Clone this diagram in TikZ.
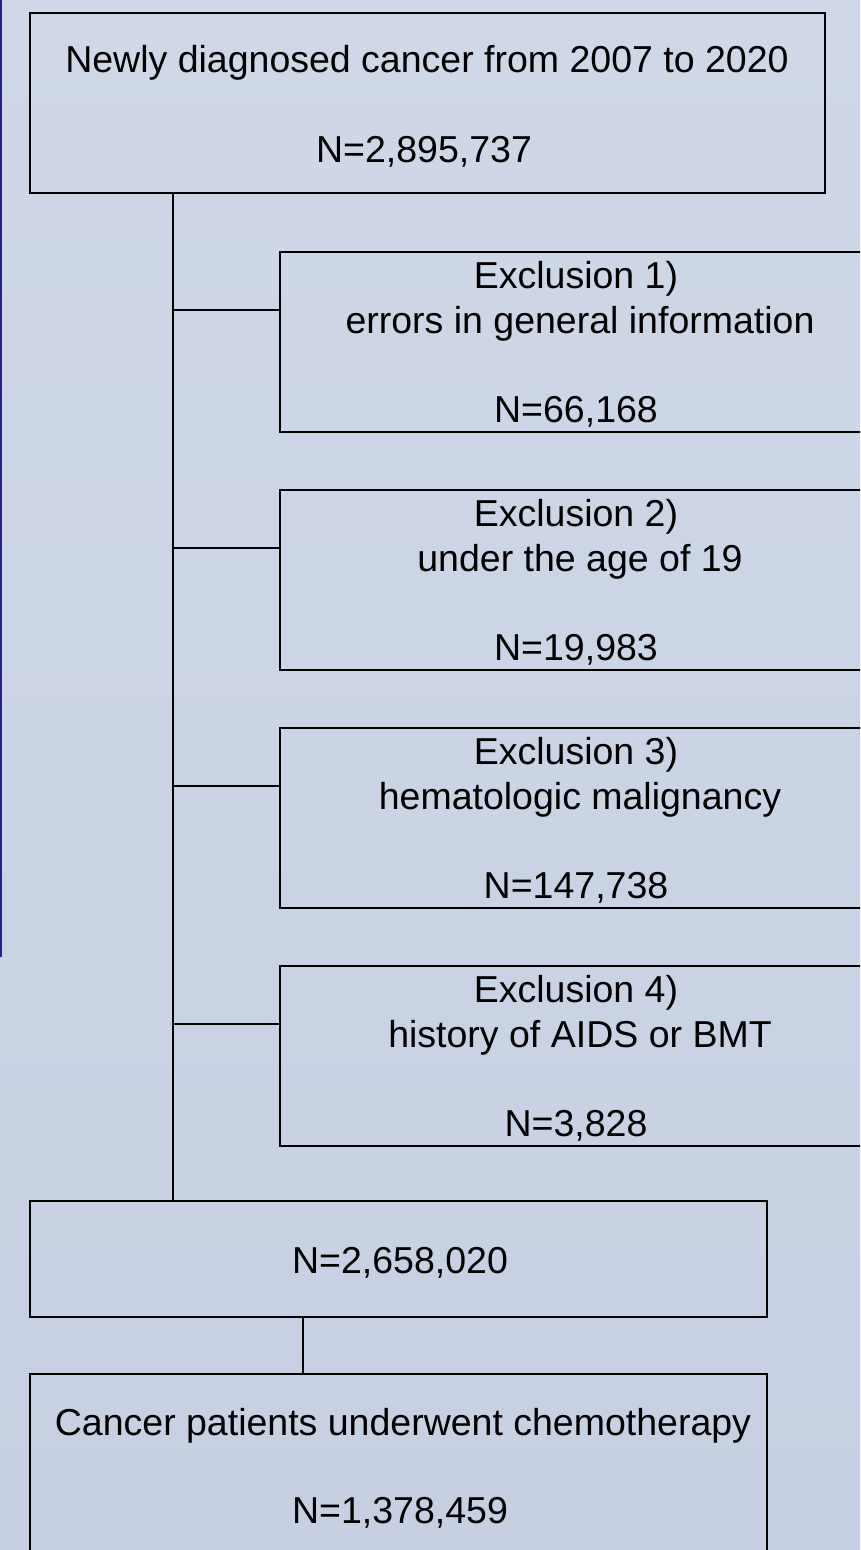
\documentclass[tikz,border=0pt]{standalone}
\usepackage{fontspec}
\setmainfont{Liberation Sans}
\usepackage{xcolor}

\definecolor{bgtop}{HTML}{D0D8E7}
\definecolor{bgbot}{HTML}{C6D0E2}
\definecolor{edgeblue}{HTML}{2B1F8C}

\tikzset{
  box/.style={draw=black, line width=2.2pt, inner sep=0pt},
  txt/.style={anchor=base, inner sep=0pt, font=\fontsize{37.5}{45}\selectfont},
  link/.style={draw=black, line width=2.2pt}
}

\begin{document}
\begin{tikzpicture}[x=1pt,y=-1pt]
\useasboundingbox (0,0) rectangle (860,1550);
\clip (0,0) rectangle (860,1550);

% -------------------------
% Background
% -------------------------
\shade[top color=bgtop, bottom color=bgbot] (0,0) rectangle (860,1550);
\draw[edgeblue, line width=2.5pt] (1,0) -- (1,957);

% -------------------------
% Starting cohort
% -------------------------
\node[box, minimum width=795pt, minimum height=180pt] (src) at (427.5,103) {};
\node[txt] (srcA) at (427,72) {Newly diagnosed cancer from 2007 to 2020};
\node[txt] (srcN) at (424,162) {N=2,895,737};

% -------------------------
% Exclusion boxes
% -------------------------
\node[box, minimum width=600pt, minimum height=180pt] (exA) at (580,342) {};
\node[txt] (exAa) at (576,288) {Exclusion 1)};
\node[txt] (exAb) at (580,333) {errors in general information};
\node[txt] (exAn) at (576,422) {N=66,168};

\node[box, minimum width=600pt, minimum height=180pt] (exB) at (580,580) {};
\node[txt] (exBa) at (576,526) {Exclusion 2)};
\node[txt] (exBb) at (580,571) {under the age of 19};
\node[txt] (exBn) at (576,660) {N=19,983};

\node[box, minimum width=600pt, minimum height=180pt] (exC) at (580,818) {};
\node[txt] (exCa) at (576,764) {Exclusion 3)};
\node[txt] (exCb) at (580,809) {hematologic malignancy};
\node[txt] (exCn) at (576,898) {N=147,738};

\node[box, minimum width=600pt, minimum height=180pt] (exD) at (580,1056) {};
\node[txt] (exDa) at (576,1002) {Exclusion 4)};
\node[txt] (exDb) at (580,1047) {history of AIDS or BMT};
\node[txt] (exDn) at (576,1136) {N=3,828};

% -------------------------
% Remaining cohort and final group
% -------------------------
\node[box, minimum width=737pt, minimum height=116pt] (merge) at (398.5,1259) {};
\node[txt] (mergeN) at (400,1273) {N=2,658,020};

\node[box, minimum width=737pt, minimum height=216pt] (final) at (398.5,1482) {};
\node[txt] (finalA) at (403,1435) {Cancer patients underwent chemotherapy};
\node[txt] (finalN) at (400,1523) {N=1,378,459};

% -------------------------
% Connectors
% -------------------------
\coordinate (trunk) at (173,0);
\coordinate (split) at (303,0);
\coordinate (jA) at (173,310);
\coordinate (jB) at (173,548);
\coordinate (jC) at (173,786);
\coordinate (jD) at (173,1024);

\draw[link] (src.south -| trunk) -- (merge.north -| trunk);
\draw[link] (jA) -- (jA -| exA.west);
\draw[link] (jB) -- (jB -| exB.west);
\draw[link] (jC) -- (jC -| exC.west);
\draw[link] (jD) -- (jD -| exD.west);
\draw[link] (merge.south -| split) -- (final.north -| split);

\end{tikzpicture}
\end{document}
